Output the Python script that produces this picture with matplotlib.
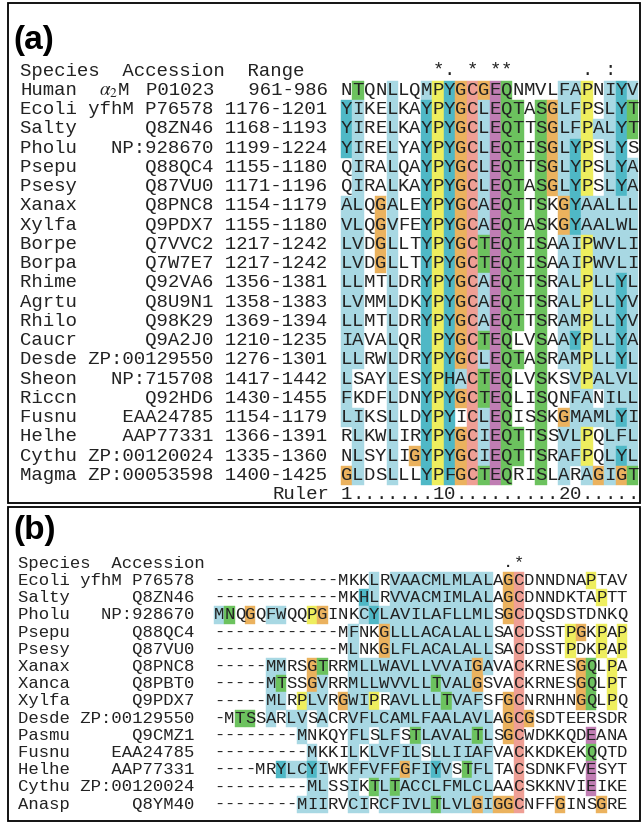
import matplotlib.pyplot as plt
from matplotlib.patches import Rectangle

plt.rcParams['font.family'] = ['Liberation Mono', 'DejaVu Sans Mono']
plt.rcParams['mathtext.fontset'] = 'stix'

# --- colour codes used in the colour strings (ClustalX style) ---
palette = {
    'b': '#a8d8e3',   # hydrophobic
    't': '#4fb8c6',   # aromatic
    'y': '#eeee5e',   # proline
    'o': '#ebb25e',   # glycine
    'r': '#ef9f95',   # cysteine
    'g': '#6cc25e',   # polar
    'm': '#c07db3',   # acidic
}

# --- panel (a) data ---
a_species = ["Human", "Ecoli", "Salty", "Pholu", "Psepu", "Psesy", "Xanax", "Xylfa",
             "Borpe", "Borpa", "Rhime", "Agrtu", "Rhilo", "Caucr", "Desde", "Sheon",
             "Riccn", "Fusnu", "Helhe", "Cythu", "Magma"]
a_protein = ["$\\alpha_2$M", "yfhM", "", "", "", "", "", "", "", "", "", "", "", "", "",
             "", "", "", "", "", ""]
a_accession = ["P01023", "P76578", "Q8ZN46", "NP:928670", "Q88QC4", "Q87VU0", "Q8PNC8",
               "Q9PDX7", "Q7VVC2", "Q7W7E7", "Q92VA6", "Q8U9N1", "Q98K29", "Q9A2J0",
               "ZP:00129550", "NP:715708", "Q92HD6", "EAA24785", "AAP77331",
               "ZP:00120024", "ZP:00053598"]
a_range = ["961-986", "1176-1201", "1168-1193", "1199-1224", "1155-1180", "1171-1196",
           "1154-1179", "1155-1180", "1217-1242", "1217-1242", "1356-1381", "1358-1383",
           "1369-1394", "1210-1235", "1276-1301", "1417-1442", "1430-1455", "1154-1179",
           "1366-1391", "1335-1360", "1400-1425"]
a_seqs = [
    "NTQNLLQMPYGCGEQNMVLFAPNIYV",
    "YIKELKAYPYGCLEQTASGLFPSLYT",
    "YIRELKAYPYGCLEQTTSGLFPALYT",
    "YIRELYAYPYGCLEQTISGLYPSLYS",
    "QIRALQAYPYGCLEQTTSGLYPSLYA",
    "QIRALKAYPYGCLEQTASGLYPSLYA",
    "ALQGALEYPYGCAEQTTSKGYAALLL",
    "VLQGVFEYPYGCAEQTASKGYAALWL",
    "LVDGLLTYPYGCTEQTISAAIPWVLI",
    "LVDGLLTYPYGCTEQTISAAIPWVLI",
    "LLMTLDRYPYGCAEQTTSRALPLLYL",
    "LVMMLDKYPYGCAEQTTSRALPLLYV",
    "LLMTLDRYPYGCAEQTTSRAMPLLYV",
    "IAVALQR PYGCTEQLVSAAYPLLYA",
    "LLRWLDRYPYGCLEQTASRAMPLLYL",
    "LSAYLESYPHACTEQLVSKSVPALVL",
    "FKDFLDNYPYGCTEQLISQNFANILL",
    "LIKSLLDYPYICLEQISSKGMAMLYI",
    "RLKWLIRYPYGCIEQTTSSVLPQLFL",
    "NLSYLIGYPYGCIEQTTSRAFPQLYL",
    "GLDSLLLYPFGCTEQRISLARAGIGT",
]
# one colour code per residue ('.' = no shading)
a_colors = [
    ".g..b..bytoromg....bby.btb",
    "tb..b..tytorbmgg.gobby.btg",
    "tb..b..tytorbmgg.gobbybbtg",
    "tb..b..tytorbmgg.gobty.bt.",
    ".b..b..tytorbmgg.gobty.btb",
    ".b..b..tytorbmgg.gobty.btb",
    "bb.ob..tytorbmgg.g.otbbbbb",
    "bb.ob..tytorbmgg.g.otbbbbb",
    "bb.ob..tytorgmgg.g.bbybbbb",
    "bb.ob..tytorgmgg.g.bbybbbb",
    "bb..b..tytorbmgg.g.bbybbtb",
    "bb..b..tytorbmgg.g.bbybbtb",
    "bb..b..tytorbmgg.g.bbybbtb",
    "bb..b..tytorgmg..g.btybbtb",
    "bb..b..tytorbmgg.g.bbybbtb",
    "b...b..tytbrgmg..g..bybbbb",
    "b...b..tytorgmg..g..bb.bbb",
    "bb..b..tyt.rbmg..g.obbbbtb",
    ".b..b..tytorbmgg.g.bby.bbb",
    ".b..b.otytorbmgg.g.bby.btb",
    "ob..b..tytorgmg..g.b.bobog",
]
a_conservation = "        *. * **      . :  "
a_ruler = "1.......10.........20....."

# --- panel (b) data ---
b_species = ["Ecoli", "Salty", "Pholu", "Psepu", "Psesy", "Xanax", "Xanca", "Xylfa",
             "Desde", "Pasmu", "Fusnu", "Helhe", "Cythu", "Anasp"]
b_protein = ["yfhM", "", "", "", "", "", "", "", "", "", "", "", "", ""]
b_accession = ["P76578", "Q8ZN46", "NP:928670", "Q88QC4", "Q87VU0", "Q8PNC8", "Q8PBT0",
               "Q9PDX7", "ZP:00129550", "Q9CMZ1", "EAA24785", "AAP77331",
               "ZP:00120024", "Q8YM40"]
b_seqs = [
    "------------MKKLRVAACMLMLALAGCDNNDNAPTAV",
    "------------MKHLRVVACMIMLALAGCDNNDKTAPTT",
    "MNQGQFWQQPGINKCYLAVILAFLLMLSGCDQSDSTDNKQ",
    "------------MFNKGLLLACALALLSACDSSTPGKPAP",
    "------------MLNKGLFLACALALLSACDSSTPDKPAP",
    "-----MMRSGTRRMLLWAVLLVVAIGAVACKRNESGQLPA",
    "-----MTSSGVRRMLLWVVLLTVALGSVACKRNESGQLPT",
    "-----MLRPLVRGWIPRAVLLLTVAFSFGCNRNHNGQLPQ",
    "-MTSSARLVSACRVFLCAMLFAALAVLAGCGSDTEERSDR",
    "--------MNKQYFLSLFSTLAVALTLSGCWDKKQDEANA",
    "---------MKKILKLVFILSLLIIAFVACKKDKEKQQTD",
    "----MRYLCYIWKFFVFFGFIYVSTFLTACSDNKFVESYT",
    "---------MLSSIKTLTACCLFMLCLAACSKKNVIEIKE",
    "--------MIIRVCIRCFIVLTLVLGIGGCNFFGINSGRE",
]
b_colors = [
    "." * 15 + "b.bbbbbbbbbb.or" + "......y...",
    "." * 14 + "tb.bbbbbbbbbb.or" + ".......y..",
    "bg.o.bb..yo...btbbbbbbbbbbb.or" + "..........",
    "." * 13 + "b..obbbbbbbbbb..r" + "....yo.y.y",
    "." * 13 + "b..obbbbbbbbbb..r" + "....y..y.y",
    "....." + "bb..og..bbbbbbbbbbbbob..r" + ".....og.y.",
    "....." + "bg..ob..bbbbbbbbgbbbo...r" + ".....og.y.",
    "....." + "bb.ybb.obby.bbbbbgbbb..or" + ".....og.y.",
    "..gg.b.bb.b.." + "bbbbbbbbbbbbbb" + ".oro" + ".........",
    "........" + "b....bb.bb.gbbbbbgb.or" + "......m...",
    "........." + "b...b.bbbbb.bbbbbb..r" + "......g...",
    "......" + "tbbtb..bbbbbobbtb.gbb..r" + "......m...",
    "........." + "bb..b.gbg" + "bbbbbbbbb" + "..r" + "......m...",
    "........" + "bbb..bb.bbbbbg" + "bbboboor" + "...o...o..",
]
b_conservation = " " * 28 + ".*" + " " * 10

# --- layout (pixels) ---
fig = plt.figure(figsize=(6.42, 8.24), dpi=100)
ax = fig.add_axes([0, 0, 1, 1])
ax.set_xlim(0, 642)
ax.set_ylim(824, 0)
ax.axis('off')

ink = '#222222'


def label_line(sp, prot, acc):
    s = list(f"{sp:<5}{acc:>12}")
    if prot and not prot.startswith('$'):
        s[10 - len(prot):10] = list(prot)
    return ''.join(s)


def draw_block(seqs, colors, x0, cw, y0, rh, fs):
    for i, (seq, col) in enumerate(zip(seqs, colors)):
        y = y0 + i * rh
        for j, ch in enumerate(seq):
            c = col[j] if j < len(col) else '.'
            if c != '.':
                ax.add_patch(Rectangle((x0 + j * cw, y - rh / 2), cw, rh,
                                       facecolor=palette[c], edgecolor=palette[c], lw=0.3))
            if ch != ' ':
                ax.text(x0 + (j + 0.5) * cw, y, ch, fontsize=fs, color=ink,
                        ha='center', va='center')


def draw_row_text(txt, x0, cw, y, fs):
    for j, ch in enumerate(txt):
        if ch != ' ':
            ax.text(x0 + (j + 0.5) * cw, y, ch, fontsize=fs, color=ink,
                    ha='center', va='center')


# panel (a)
cw_a, rh_a, fs_a = 11.45, 19.24, 13.7
xl_a = 20.1
x0_a = xl_a + 28 * cw_a
y0_a = 90.5

ax.add_patch(Rectangle((8, 3), 632, 500, fill=False, lw=1.3, edgecolor='black'))
ax.text(13, 40, "(a)", fontsize=24, fontweight='bold', family='Liberation Sans',
        ha='left', va='center')

ax.text(xl_a, y0_a - rh_a, "Species  Accession  Range", fontsize=fs_a, color=ink,
        ha='left', va='center')
draw_row_text(a_conservation, x0_a, cw_a, y0_a - rh_a - 1, fs_a)

for i, sp in enumerate(a_species):
    y = y0_a + i * rh_a
    if a_protein[i].startswith('$'):
        # Human: species, alpha-2-macroglobulin name, then accession + range
        ax.text(xl_a, y, sp, fontsize=fs_a, color=ink, ha='left', va='center')
        ax.text(xl_a + 6.9 * cw_a, y, a_protein[i], fontsize=fs_a, color=ink,
                ha='left', va='center')
        rest = f"{a_accession[i]:>6} {a_range[i]:>9}"
        ax.text(xl_a + 11 * cw_a, y, rest, fontsize=fs_a, color=ink,
                ha='left', va='center')
    else:
        line = label_line(sp, a_protein[i], a_accession[i]) + f" {a_range[i]:>9}"
        ax.text(xl_a, y, line, fontsize=fs_a, color=ink, ha='left', va='center')

draw_block(a_seqs, a_colors, x0_a, cw_a, y0_a, rh_a, fs_a)

y_ruler = y0_a + len(a_species) * rh_a
ax.text(xl_a + 22 * cw_a, y_ruler, "Ruler", fontsize=fs_a, color=ink,
        ha='left', va='center')
draw_row_text(a_ruler, x0_a, cw_a, y_ruler, fs_a)

# panel (b)
cw_b, rh_b, fs_b = 10.33, 17.2, 12.4
x0_b = 214.0
xl_b = x0_b - 19 * cw_b
y0_b = 580.5

ax.add_patch(Rectangle((8, 507), 632, 314, fill=False, lw=1.3, edgecolor='black'))
ax.text(13, 531, "(b)", fontsize=24, fontweight='bold', family='Liberation Sans',
        ha='left', va='center')

ax.text(xl_b, y0_b - rh_b, "Species  Accession", fontsize=fs_b, color=ink,
        ha='left', va='center')
draw_row_text(b_conservation, x0_b, cw_b, y0_b - rh_b - 1, fs_b)

for i, sp in enumerate(b_species):
    y = y0_b + i * rh_b
    ax.text(xl_b, y, label_line(sp, b_protein[i], b_accession[i]), fontsize=fs_b,
            color=ink, ha='left', va='center')

draw_block(b_seqs, b_colors, x0_b, cw_b, y0_b, rh_b, fs_b)

fig.savefig("out.png", dpi=100)
